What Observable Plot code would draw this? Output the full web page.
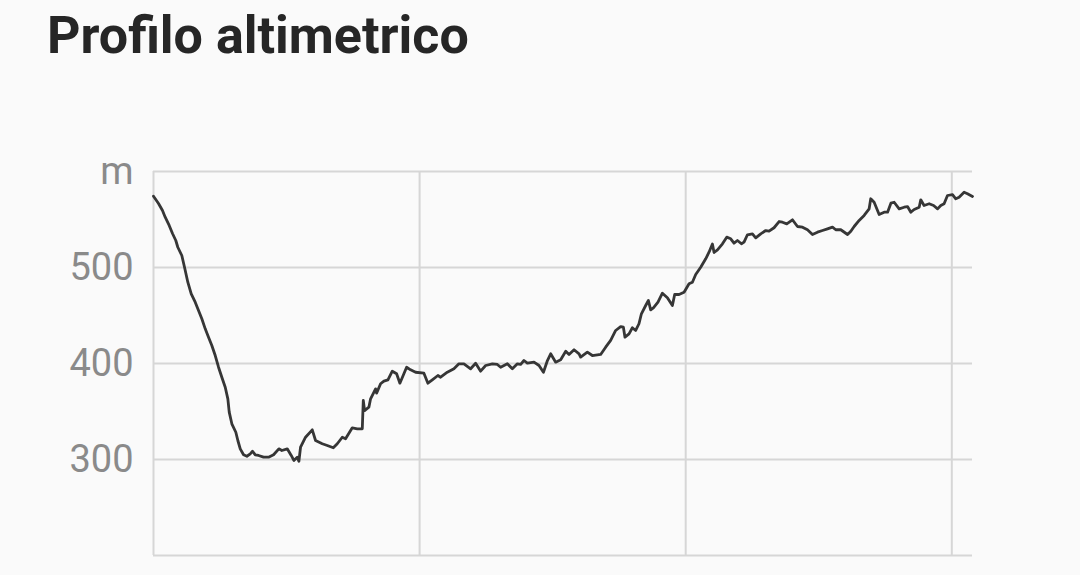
<!DOCTYPE html>
<html>
<head>
<meta charset="utf-8">
<script src="https://cdn.jsdelivr.net/npm/d3@7"></script>
<script src="https://cdn.jsdelivr.net/npm/@observablehq/plot@0.6"></script>
<style>
  html, body { margin: 0; padding: 0; background: #fafafa; overflow: hidden; width: 1080px; height: 575px; }
  #title { position: relative; height: 100px; }
  #title h1 { position: absolute; left: 47px; top: 10px; margin: 0; font-family: Roboto, sans-serif; font-weight: 700; font-size: 52px; line-height: 1; color: #262626; }
  #chart svg { display: block; }
</style>
</head>
<body>
<div id="title"><h1>Profilo altimetrico</h1></div>
<div id="chart"></div>
<script>
// distance (km) along the route
const dist = [0,0.094,0.169,0.220,0.295,0.357,0.419,0.457,0.532,0.583,0.645,0.709,0.784,0.846,0.908,0.972,1.034,1.096,1.160,1.222,1.284,1.348,1.397,1.423,1.472,1.547,1.585,1.630,1.692,1.754,1.818,1.861,1.912,1.974,2.068,2.162,2.256,2.355,2.412,2.513,2.588,2.637,2.701,2.732,2.763,2.857,2.983,3.045,3.171,3.265,3.378,3.453,3.547,3.609,3.735,3.829,3.923,3.942,3.966,4.047,4.079,4.173,4.192,4.267,4.329,4.405,4.487,4.568,4.630,4.756,4.831,4.925,5.081,5.156,5.239,5.344,5.395,5.521,5.645,5.739,5.833,5.959,6.053,6.147,6.241,6.367,6.461,6.523,6.649,6.743,6.837,6.899,6.961,7.025,7.150,7.244,7.327,7.402,7.463,7.557,7.651,7.746,7.808,7.902,7.996,8.026,8.152,8.246,8.402,8.496,8.590,8.684,8.778,8.829,8.859,8.935,8.998,9.060,9.122,9.168,9.248,9.299,9.342,9.393,9.479,9.562,9.656,9.750,9.793,9.875,9.969,10.063,10.126,10.188,10.282,10.376,10.438,10.502,10.533,10.597,10.691,10.771,10.846,10.908,10.972,11.047,11.096,11.160,11.254,11.316,11.410,11.504,11.566,11.660,11.755,11.818,11.899,12.006,12.100,12.194,12.288,12.382,12.476,12.570,12.664,12.758,12.820,12.914,13.041,13.103,13.165,13.259,13.353,13.447,13.477,13.541,13.635,13.729,13.793,13.856,13.917,14.011,14.105,14.168,14.230,14.293,14.387,14.417,14.479,14.575,14.658,14.733,14.793,14.855,14.919,15.013,15.075,15.137,15.231,15.295,15.389];
// elevation (m)
const elev = [574.3,566.7,559.4,552.4,543.8,535.4,528.1,521.1,512.5,500.3,484.7,472.6,463.9,455.2,446.6,436.1,427.4,418.7,408.3,396.1,385.7,375.3,363.2,349.3,337.2,328.4,319.8,311.1,304.9,303.4,305.9,308.6,304.9,304.2,302.4,302.4,304.9,311.1,309.4,311.1,304.2,299,302.4,298.2,312.8,323.2,330.9,319.8,316.4,314.6,312.2,316.4,323.2,321.6,333,332,332,361.5,351,354.5,363.2,373.6,369.1,378.9,381.6,383,392,389.3,379.5,396.1,393.4,390.9,389.9,379.5,383,387.5,385.7,390.9,394.5,399.7,399.7,394.5,400.3,392,397.9,399.7,399,396.1,399.7,394.5,399.7,399,403.1,400.3,401.4,397.9,390.9,403.1,410.1,401.4,403.9,412.8,409.4,414.3,410.1,406.6,411.8,408.3,409.4,417,424,434.4,438.5,437.8,427.4,430.9,437.2,434.4,441.4,451.8,460.4,465.6,455.9,458,463.9,473.2,468.4,460.4,471.9,471.9,474.3,483,484.7,492.7,500.3,509.1,515.9,524.5,515.6,518.4,524.7,531.6,529.9,525.3,528.1,524.7,526.4,534.1,535.1,530.9,535.1,538.5,537.8,541.4,547.9,547.2,545.5,549.7,542.7,542,539.3,534.4,536.8,538.5,540.3,542,539.3,539.3,534.4,537.8,542.7,549,554.2,561.1,571.6,568,555.2,557.6,557.6,567,568,561.1,562.8,563.5,557.6,560.4,562.8,570.5,564.6,566.4,564.6,561.1,564.6,566.4,575,576,571.6,573.2,578.4,576.8,574];
const xTicks = [0, 5, 10, 15];
const yTicks = [200, 300, 400, 500, 600];
const yTickLabels = {200: "", 300: "300", 400: "400", 500: "500", 600: "m"};

const data = dist.map((d, i) => ({d, e: elev[i]}));

const chart = Plot.plot({
  width: 1080,
  height: 475,
  marginTop: 71,
  marginBottom: 20,
  marginLeft: 153,
  marginRight: 108,
  style: {background: "transparent", fontFamily: "Roboto, sans-serif"},
  x: {domain: [0, dist[dist.length - 1]], axis: null},
  y: {domain: [200, 600], axis: null},
  marks: [
    Plot.gridY(yTicks, {stroke: "#d6d6d6", strokeOpacity: 1, strokeWidth: 2}),
    Plot.gridX(xTicks, {stroke: "#d6d6d6", strokeOpacity: 1, strokeWidth: 2}),
    Plot.axisY(yTicks, {
      tickSize: 0, tickPadding: 20, fontSize: 38, color: "#8a8a8a",
      tickFormat: d => yTickLabels[d], label: null
    }),
    Plot.line(data, {x: "d", y: "e", stroke: "#363636", strokeWidth: 2.8, strokeLinejoin: "round"})
  ]
});
document.getElementById("chart").appendChild(chart);
</script>
</body>
</html>
